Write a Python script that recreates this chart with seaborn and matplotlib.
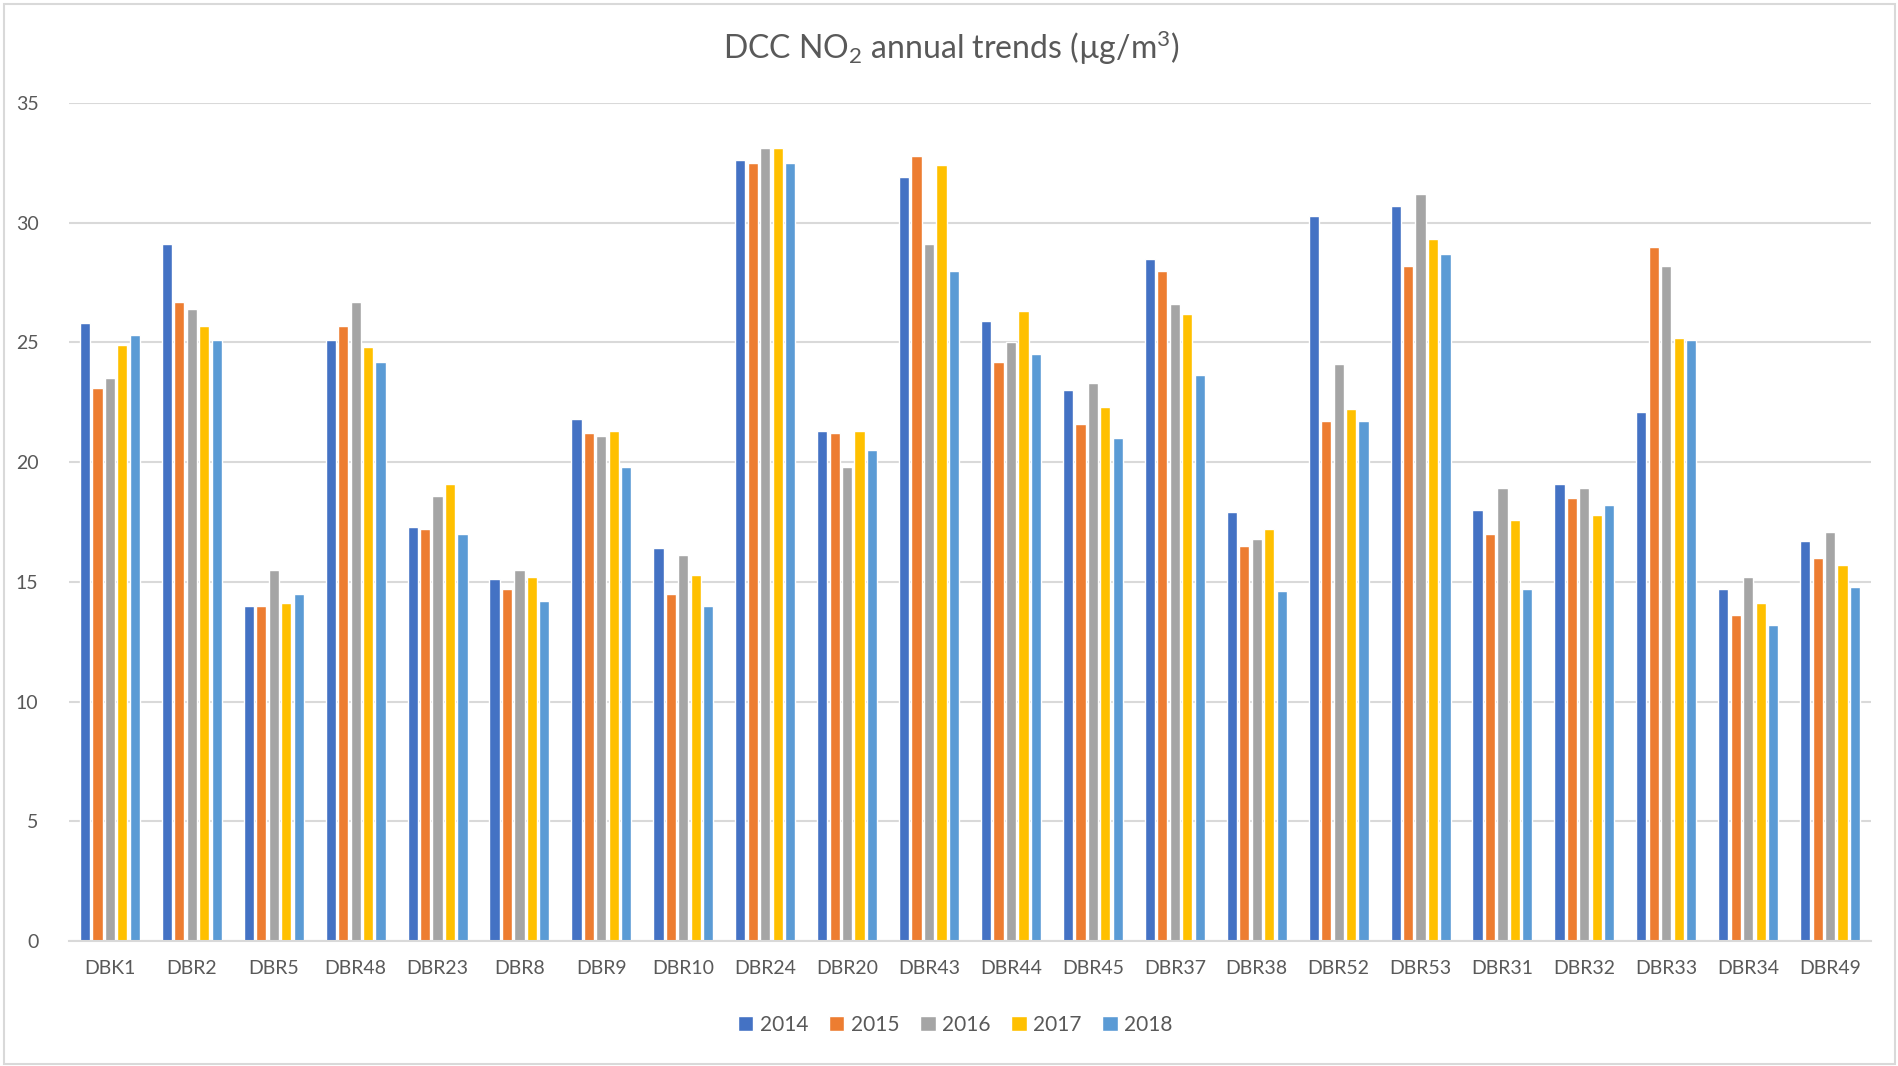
# ============================================================
# DCC NO2 annual trends - grouped bar chart
# ============================================================

import pandas as pd
import matplotlib.pyplot as plt
import seaborn as sns
from matplotlib.patches import Rectangle

# ============================================================
# Data
# ============================================================

sites = [
    "DBK1", "DBR2", "DBR5", "DBR48", "DBR23", "DBR8", "DBR9", "DBR10",
    "DBR24", "DBR20", "DBR43", "DBR44", "DBR45", "DBR37", "DBR38",
    "DBR52", "DBR53", "DBR31", "DBR32", "DBR33", "DBR34", "DBR49"
]

years = ["2014", "2015", "2016", "2017", "2018"]

no2_2014 = [25.8, 29.1, 14.0, 25.1, 17.3, 15.1, 21.8, 16.4, 32.6, 21.3, 31.9,
            25.9, 23.0, 28.5, 17.9, 30.3, 30.7, 18.0, 19.1, 22.1, 14.7, 16.7]
no2_2015 = [23.1, 26.7, 14.0, 25.7, 17.2, 14.7, 21.2, 14.5, 32.5, 21.2, 32.8,
            24.2, 21.6, 28.0, 16.5, 21.7, 28.2, 17.0, 18.5, 29.0, 13.6, 16.0]
no2_2016 = [23.5, 26.4, 15.5, 26.7, 18.6, 15.5, 21.1, 16.1, 33.1, 19.8, 29.1,
            25.0, 23.3, 26.6, 16.8, 24.1, 31.2, 18.9, 18.9, 28.2, 15.2, 17.1]
no2_2017 = [24.9, 25.7, 14.1, 24.8, 19.1, 15.2, 21.3, 15.3, 33.1, 21.3, 32.4,
            26.3, 22.3, 26.2, 17.2, 22.2, 29.3, 17.6, 17.8, 25.2, 14.1, 15.7]
no2_2018 = [25.3, 25.1, 14.5, 24.2, 17.0, 14.2, 19.8, 14.0, 32.5, 20.5, 28.0,
            24.5, 21.0, 23.65, 14.6, 21.7, 28.7, 14.7, 18.2, 25.1, 13.2, 14.8]

colors = ["#4472C4", "#ED7D31", "#A5A5A5", "#FFC000", "#5B9BD5"]

# ============================================================
# Long format table for seaborn
# ============================================================

series = [no2_2014, no2_2015, no2_2016, no2_2017, no2_2018]

rows = []
for year, values in zip(years, series):
    for site, v in zip(sites, values):
        rows.append({"Site": site, "Year": year, "NO2": v})

df = pd.DataFrame(rows)

# ============================================================
# Plot
# ============================================================

sns.set_style("white")
plt.rcParams["font.family"] = ["Lato", "DejaVu Sans"]
plt.rcParams["mathtext.fontset"] = "custom"
plt.rcParams["mathtext.rm"] = "Lato"
plt.rcParams["mathtext.it"] = "Lato"

text_color = "#595959"
grid_color = "#D9D9D9"

fig = plt.figure(figsize=(18.99, 10.66), dpi=100)
ax = fig.add_axes([0.0363, 0.1173, 0.949, 0.7861])

sns.barplot(
    data=df,
    x="Site",
    y="NO2",
    hue="Year",
    hue_order=years,
    order=sites,
    palette=colors,
    width=0.76,
    gap=0.18,
    saturation=1,
    errorbar=None,
    legend=True,
    ax=ax
)

ax.set_ylim(0, 35)
ax.set_yticks(range(0, 36, 5))
ax.set_xlim(-0.5, len(sites) - 0.5)

ax.yaxis.grid(True, color=grid_color, linewidth=1.5)
ax.set_axisbelow(True)

for side in ["left", "right", "top"]:
    ax.spines[side].set_visible(False)
ax.spines["bottom"].set_color(grid_color)
ax.spines["bottom"].set_linewidth(1.5)

ax.tick_params(axis="x", length=0, pad=14, labelsize=14, labelcolor=text_color)
ax.tick_params(axis="y", length=0, pad=22, labelsize=14, labelcolor=text_color)

ax.set_xlabel("")
ax.set_ylabel("")

fig.text(
    0.501, 0.955,
    r"DCC NO$_2$ annual trends (µg/m$^3$)",
    ha="center", va="center",
    fontsize=23, color=text_color
)

ax.legend_.remove()
handles, labels = ax.get_legend_handles_labels()
fig.legend(
    handles[:5], labels[:5],
    loc="center",
    bbox_to_anchor=(0.503, 0.0385),
    ncol=5,
    frameon=False,
    fontsize=15,
    labelcolor=text_color,
    handlelength=0.75,
    handleheight=0.75,
    handletextpad=0.3,
    columnspacing=1.0
)

# outer chart border
fig.patches.append(
    Rectangle((0.002, 0.002), 0.996, 0.994, transform=fig.transFigure,
              fill=False, edgecolor=grid_color, linewidth=1.5)
)

plt.savefig("out.png", dpi=100)
plt.close()
